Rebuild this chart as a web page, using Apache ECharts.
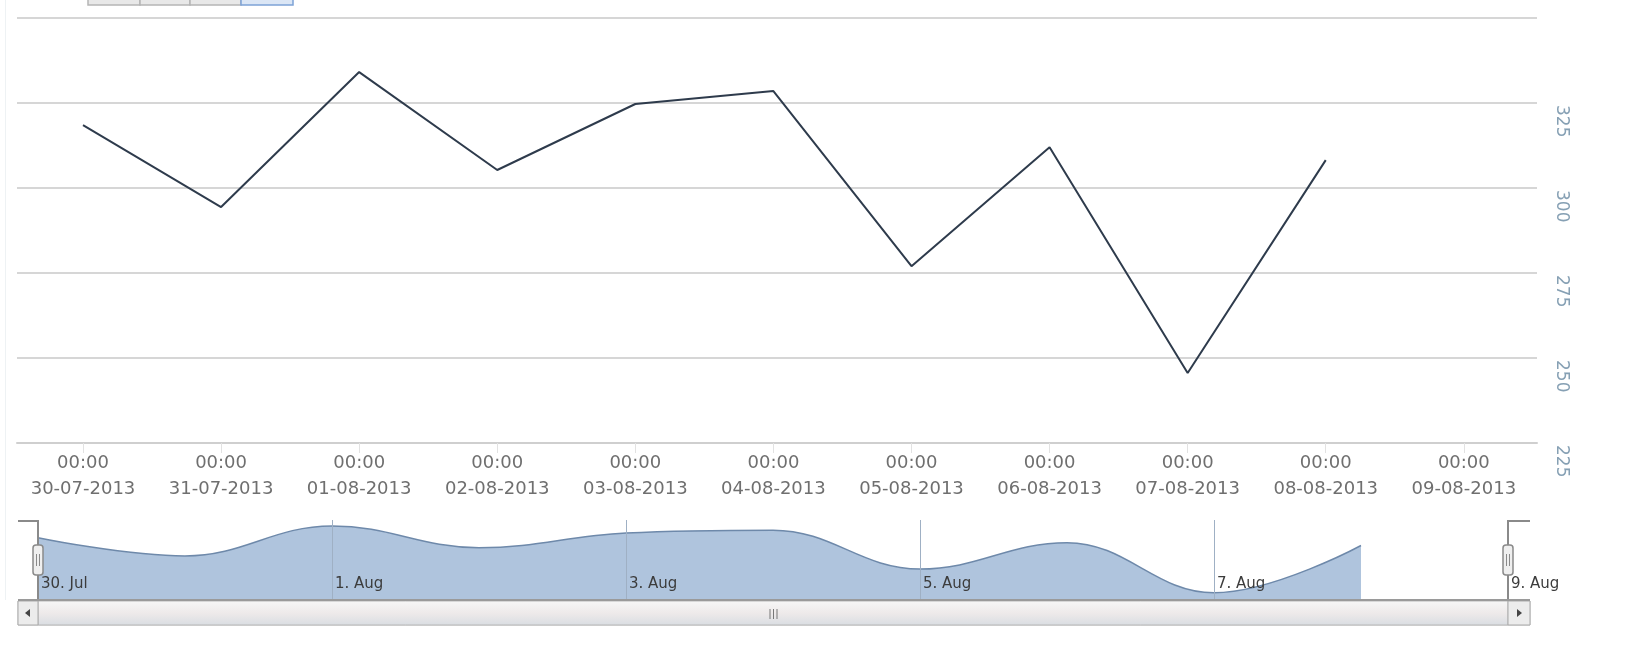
<!DOCTYPE html>
<html>
<head>
<meta charset="utf-8">
<script src="https://cdn.jsdelivr.net/npm/echarts@6/dist/echarts.min.js"></script>
<style>html,body{margin:0;padding:0;background:#fff;}#c{width:1640px;height:657px;}</style>
</head>
<body>
<div id="c"></div>
<script>
// ---- data ----
const dates = ['2013-07-30','2013-07-31','2013-08-01','2013-08-02','2013-08-03','2013-08-04','2013-08-05','2013-08-06','2013-08-07','2013-08-08'];
const values = [318.5, 294.4, 334.1, 305.3, 324.7, 328.5, 277.0, 312.0, 245.6, 308.2];
const tickDates = ['2013-07-30','2013-07-31','2013-08-01','2013-08-02','2013-08-03','2013-08-04','2013-08-05','2013-08-06','2013-08-07','2013-08-08','2013-08-09'];
const yTicks = [225, 250, 275, 300, 325, 350];
const navStart = '2013-07-30';
const navEnd = '2013-08-09';
const monthNames = ['Jan','Feb','Mar','Apr','May','Jun','Jul','Aug','Sep','Oct','Nov','Dec'];

const DAY = 86400000;
const ts = s => Date.parse(s + 'T00:00:00Z');
const pad = n => (n < 10 ? '0' : '') + n;
const seriesData = dates.map((d, i) => [ts(d), values[i]]);
const tickTs = tickDates.map(ts);

const font = 'DejaVu Sans';

const chart = echarts.init(document.getElementById('c'), null, {renderer: 'canvas'});

function grip(x, y) {
  return [
    {type: 'rect', shape: {x: x - 5, y: y, width: 10, height: 30, r: 3}, style: {fill: '#efefef', stroke: '#8a8a8a', lineWidth: 1.5}, z: 100},
    {type: 'line', shape: {x1: x - 1.5, y1: y + 9, x2: x - 1.5, y2: y + 21}, style: {stroke: '#8a8a8a', lineWidth: 1}, z: 101},
    {type: 'line', shape: {x1: x + 1.5, y1: y + 9, x2: x + 1.5, y2: y + 21}, style: {stroke: '#8a8a8a', lineWidth: 1}, z: 101}
  ];
}

const option = {
  animation: false,
  backgroundColor: '#fff',
  textStyle: {fontFamily: font},
  grid: [
    {left: 17, right: 103, top: 18, bottom: 214},
    {left: 38, right: 132, top: 520, bottom: 57}
  ],
  xAxis: [
    {
      type: 'value', gridIndex: 0,
      min: ts(dates[0]) - 0.478 * DAY,
      max: ts(tickDates[tickDates.length - 1]) + 0.53 * DAY,
      splitLine: {show: false},
      axisLine: {show: true, lineStyle: {color: '#cfcfcf', width: 2}},
      axisTick: {show: true, customValues: tickTs, length: 10, lineStyle: {color: '#e2e2e2', width: 1}},
      axisLabel: {
        customValues: tickTs,
        margin: 7, fontSize: 18, lineHeight: 26, color: '#6f6f6f', fontFamily: font,
        formatter: v => {
          const d = new Date(v);
          return pad(d.getUTCHours()) + ':' + pad(d.getUTCMinutes()) + '\n' +
            pad(d.getUTCDate()) + '-' + pad(d.getUTCMonth() + 1) + '-' + d.getUTCFullYear();
        }
      }
    },
    {
      type: 'value', gridIndex: 1, z: 10,
      min: ts(navStart), max: ts(navEnd), interval: 2 * DAY,
      splitLine: {show: true, lineStyle: {color: '#9fb0c4', width: 1}},
      axisLine: {show: true, lineStyle: {color: '#9a9a9a', width: 2}},
      axisTick: {show: false},
      axisLabel: {
        inside: true, margin: 8, align: 'left', fontSize: 15, color: '#3c3c3c', fontFamily: font,
        padding: [0, 0, 0, 3],
        formatter: v => { const d = new Date(v); return d.getUTCDate() + '. ' + monthNames[d.getUTCMonth()]; }
      }
    }
  ],
  yAxis: [
    {
      type: 'value', gridIndex: 0, position: 'right',
      min: yTicks[0], max: yTicks[yTicks.length - 1], interval: 25,
      axisLine: {show: false}, axisTick: {show: false},
      splitLine: {show: true, lineStyle: {color: '#d6d6d6', width: 2}},
      axisLabel: {
        rotate: -90, align: 'left', verticalAlign: 'middle', margin: 24,
        fontSize: 17, color: '#86a0b4', fontFamily: font, showMaxLabel: false,
        padding: [0, 0, 0, 2]
      }
    },
    {
      type: 'value', gridIndex: 1, min: 236, max: 342,
      show: false, splitLine: {show: false}
    }
  ],
  series: [
    {
      type: 'line', xAxisIndex: 0, yAxisIndex: 0, data: seriesData,
      symbol: 'none', lineStyle: {color: '#2e3b4c', width: 2}, z: 5
    },
    {
      type: 'line', xAxisIndex: 1, yAxisIndex: 1, data: seriesData,
      symbol: 'none', smooth: 0.4,
      lineStyle: {color: '#6e89aa', width: 1.5},
      areaStyle: {color: '#afc4dd', opacity: 1, origin: 'start'}, z: 2
    }
  ],
  graphic: [
    // range selector buttons (cut off at top)
    {type: 'rect', shape: {x: 88, y: -20, width: 52, height: 25}, style: {fill: '#e8e8e8', stroke: '#b5b5b5', lineWidth: 1.5}},
    {type: 'rect', shape: {x: 140, y: -20, width: 50, height: 25}, style: {fill: '#e8e8e8', stroke: '#b5b5b5', lineWidth: 1.5}},
    {type: 'rect', shape: {x: 190, y: -20, width: 51, height: 25}, style: {fill: '#e8e8e8', stroke: '#b5b5b5', lineWidth: 1.5}},
    {type: 'rect', shape: {x: 241, y: -20, width: 52, height: 25}, style: {fill: '#dbe6f5', stroke: '#7ea3d6', lineWidth: 1.5}},
    // faint page border on the left
    {type: 'line', shape: {x1: 5.5, y1: 0, x2: 5.5, y2: 600}, style: {stroke: '#eef2f4', lineWidth: 1}},
    // scrollbar track
    {type: 'rect', shape: {x: 18, y: 601, width: 1512, height: 24},
      style: {fill: new echarts.graphic.LinearGradient(0, 0, 0, 1, [{offset: 0, color: '#f4f4f4'}, {offset: 1, color: '#dcdcdc'}]), stroke: '#c4c4c4', lineWidth: 1}, z: 90},
    // thumb
    {type: 'rect', shape: {x: 38, y: 601, width: 1470, height: 24},
      style: {fill: new echarts.graphic.LinearGradient(0, 0, 0, 1, [{offset: 0, color: '#f7f7f7'}, {offset: 0.5, color: '#eeeaea'}, {offset: 1, color: '#d9dde2'}]), stroke: '#b8b8b8', lineWidth: 1}, z: 91},
    {type: 'line', shape: {x1: 770, y1: 609, x2: 770, y2: 619}, style: {stroke: '#777', lineWidth: 1}, z: 92},
    {type: 'line', shape: {x1: 773.5, y1: 609, x2: 773.5, y2: 619}, style: {stroke: '#777', lineWidth: 1}, z: 92},
    {type: 'line', shape: {x1: 777, y1: 609, x2: 777, y2: 619}, style: {stroke: '#777', lineWidth: 1}, z: 92},
    // buttons
    {type: 'rect', shape: {x: 18, y: 601, width: 20, height: 24}, style: {fill: '#ececec', stroke: '#aaa', lineWidth: 1}, z: 93},
    {type: 'polygon', shape: {points: [[25, 613], [30, 609], [30, 617]]}, style: {fill: '#444'}, z: 94},
    {type: 'rect', shape: {x: 1508, y: 601, width: 22, height: 24}, style: {fill: '#ececec', stroke: '#aaa', lineWidth: 1}, z: 93},
    {type: 'polygon', shape: {points: [[1522, 613], [1517, 609], [1517, 617]]}, style: {fill: '#444'}, z: 94},
    // navigator outline
    {type: 'polyline', shape: {points: [[18, 521], [38, 521], [38, 600]]}, style: {stroke: '#8a8a8a', lineWidth: 2, fill: null}, z: 95},
    {type: 'polyline', shape: {points: [[1508, 600], [1508, 521], [1530, 521]]}, style: {stroke: '#8a8a8a', lineWidth: 2, fill: null}, z: 95},
    {type: 'line', shape: {x1: 18, y1: 600, x2: 1530, y2: 600}, style: {stroke: '#9a9a9a', lineWidth: 2}, z: 95}
  ].concat(grip(38, 545)).concat(grip(1508, 545))
};

chart.setOption(option);
</script>
</body>
</html>
